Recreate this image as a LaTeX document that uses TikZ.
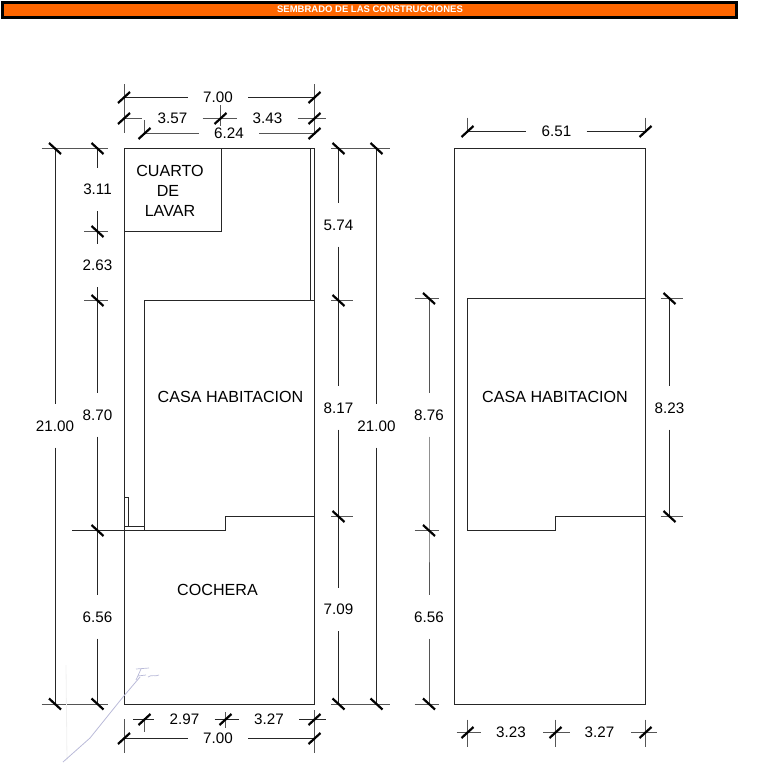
\documentclass[tikz,border=0pt]{standalone}
\usepackage{fontspec}
\setmainfont{Liberation Sans}
\usetikzlibrary{positioning,calc}
\definecolor{headorange}{HTML}{FF6600}
\definecolor{extgray}{HTML}{555555}
\definecolor{penblue}{HTML}{B9BAD8}
\tikzset{
    wall/.style={draw=black!85, line width=1pt},
    extline/.style={draw=extgray, line width=1pt},
    dimline/.style={draw=black!85, line width=1pt},
    heavy/.style={draw=black, line width=2.2pt},
    tickf/.style={insert path={+(-6,5.5) -- +(6,-5.5)}},
    tickb/.style={insert path={+(-6,-5.5) -- +(6,5.5)}},
    room/.style={inner sep=0pt, font=\fontsize{16.1}{17}\selectfont},
    dimh/.style={inner sep=0pt, minimum width=60pt, font=\fontsize{15.2}{16}\selectfont},
    dimv/.style={inner sep=0pt, minimum height=43pt, font=\fontsize{15.2}{16}\selectfont},
    dimt/.style={inner sep=0pt, font=\fontsize{15.2}{16}\selectfont}
}
\begin{document}
\begin{tikzpicture}[x=1pt,y=-1pt]
    \useasboundingbox (0,0) rectangle (765,776);

    % Title bar
    \draw[black, line width=3pt, fill=headorange] (2.5,2.5) rectangle (736.5,17.5);
    \node[inner sep=0pt, text=white, font=\fontsize{9.5}{10}\selectfont\bfseries] (title) at (370,9.5) {SEMBRADO DE LAS CONSTRUCCIONES};

    % Left plan
    \draw[wall] (124,148.5) rectangle (314.5,704);
    \draw[wall] (124,231.5) -- (221.5,231.5) -- (221.5,148.5);
    \draw[wall] (310.5,148.5) -- (310.5,300.5);
    \draw[wall] (314.5,300.5) -- (144.5,300.5) -- (144.5,530.5);
    \draw[wall] (72,530.5) -- (225.5,530.5) -- (225.5,516.5) -- (314.5,516.5);
    \draw[wall] (124,497.5) -- (128.5,497.5) -- (128.5,526.5);
    \draw[wall] (124,526.5) -- (144.5,526.5);
    \node[room] (cuarto) at (170,171) {CUARTO};
    \node[room] (de) at (168,191) {DE};
    \node[room] (lavar) at (170,211) {LAVAR};
    \node[room] (casa) at (230.5,397) {CASA HABITACION};
    \node[room] (cochera) at (217.5,590) {COCHERA};

    % Left plan, dimensions above
    \draw[extline] (124,84) -- (124,133);
    \draw[extline] (314.5,84) -- (314.5,134);
    \draw[extline] (220.5,105) -- (220.5,126);
    \draw[extline] (144.5,120) -- (144.5,134);
    \node[dimh] (top700) at (218,97.5) {7.00};
    \node[dimh] (top357) at (172.5,118.5) {3.57};
    \node[dimh] (top343) at (267.5,118.5) {3.43};
    \node[dimh] (top624) at (229,133.5) {6.24};
    \draw[dimline] (124,97.5) -- (top700) -- (314.5,97.5);
    \draw[extline] (124,118.5) -- (top357) -- (220.5,118.5) -- (top343) -- (325.5,118.5);
    \draw[extline] (144.5,133.5) -- (top624) -- (314.5,133.5);
    \draw[heavy] (124,97.5) [tickf] (314.5,97.5) [tickf];
    \draw[heavy] (124,118.5) [tickf] (220.5,118.5) [tickf] (314.5,118.5) [tickf];
    \draw[heavy] (144.5,133.5) [tickf] (314.5,133.5) [tickf];

    % Left plan, dimensions on the left
    \draw[extline] (41.5,148.5) -- (108,148.5);
    \draw[extline] (84,231.5) -- (108,231.5);
    \draw[extline] (84,300.5) -- (108,300.5);
    \draw[extline] (41.5,704) -- (108,704);
    \node[dimv] (left2100) at (55,426) {21.00};
    \node[dimv] (left311) at (97.5,189.5) {3.11};
    \node[dimv] (left263) at (97.5,265.5) {2.63};
    \node[dimv] (left870) at (97.5,415) {8.70};
    \node[dimv] (left656) at (97.5,617) {6.56};
    \draw[dimline] (55,148.5) -- (left2100) -- (55,704);
    \draw[dimline] (97.5,148.5) -- (left311) -- (97.5,244);
    \draw[dimline] (97.5,231.5) -- (left263) -- (97.5,300.5) -- (left870) -- (97.5,530.5) -- (left656) -- (97.5,704);
    \draw[heavy] (55,148.5) [tickb] (97.5,148.5) [tickb] (97.5,231.5) [tickb] (97.5,300.5) [tickb];
    \draw[heavy] (97.5,530.5) [tickb] (55,704) [tickb] (97.5,704) [tickb];

    % Left plan, dimensions on the right
    \draw[extline] (331,148.5) -- (390,148.5);
    \draw[extline] (331,300.5) -- (353,300.5);
    \draw[extline] (331,516.5) -- (353,516.5);
    \draw[extline] (331,704) -- (390,704);
    \node[dimv] (right574) at (338.5,225) {5.74};
    \node[dimv] (right817) at (338.5,408) {8.17};
    \node[dimv] (right709) at (338.5,609.5) {7.09};
    \node[dimv] (right2100) at (376.5,426) {21.00};
    \draw[dimline] (338.5,148.5) -- (right574) -- (338.5,300.5) -- (right817) -- (338.5,516.5) -- (right709) -- (338.5,704);
    \draw[dimline] (376.5,148.5) -- (right2100) -- (376.5,704);
    \draw[heavy] (338.5,148.5) [tickb] (376.5,148.5) [tickb] (338.5,300.5) [tickb];
    \draw[heavy] (338.5,516.5) [tickb] (338.5,704) [tickb] (376.5,704) [tickb];

    % Left plan, dimensions below
    \draw[extline] (124,719) -- (124,752.5);
    \draw[extline] (314.5,710) -- (314.5,752.5);
    \draw[extline] (144.5,719) -- (144.5,732);
    \draw[extline] (225.5,712) -- (225.5,728);
    \node[dimh] (bot297) at (184.5,719.5) {2.97};
    \node[dimh] (bot327) at (269,719.5) {3.27};
    \node[dimh] (bot700) at (218,738.5) {7.00};
    \draw[dimline] (133,719.5) -- (bot297) -- (225.5,719.5) -- (bot327) -- (325.5,719.5);
    \draw[dimline] (124,738.5) -- (bot700) -- (314.5,738.5);
    \draw[heavy] (144.5,719.5) [tickf] (225.5,719.5) [tickf] (314.5,719.5) [tickf];
    \draw[heavy] (124,738.5) [tickf] (314.5,738.5) [tickf];

    % Signature
    \draw[black!6, line width=0.8pt] (66,665) -- (67,760);
    \draw[penblue, line width=0.8pt] (63,762) -- (90,738) -- (123,697) -- (140,677);
    \draw[penblue, line width=0.7pt] (141,669) -- (136,680) (136,669) -- (149,668) (138,676) -- (146,675) (148,677) .. controls (152,674) and (155,677) .. (159,675);

    % Right plan
    \draw[wall] (454.5,148.5) rectangle (645.5,704);
    \draw[wall] (645.5,298.5) -- (467.5,298.5) -- (467.5,530.5) -- (555.5,530.5) -- (555.5,516.5) -- (645.5,516.5);
    \node[room] (casab) at (555,397) {CASA HABITACION};

    % Right plan, dimension above
    \draw[extline] (467.5,117.5) -- (467.5,131.5);
    \draw[extline] (645.5,117.5) -- (645.5,131.5);
    \node[dimh] (top651) at (556.5,131.5) {6.51};
    \draw[dimline] (467.5,131.5) -- (top651) -- (645.5,131.5);
    \draw[heavy] (467.5,131.5) [tickf] (645.5,131.5) [tickf];

    % Right plan, dimensions at the sides
    \draw[extline] (414.5,298.5) -- (438.5,298.5);
    \draw[extline] (414.5,530.5) -- (438.5,530.5);
    \draw[extline] (414.5,704) -- (438.5,704);
    \draw[extline] (660.5,298.5) -- (682.5,298.5);
    \draw[extline] (660.5,516.5) -- (682.5,516.5);
    \node[dimv] (side876) at (429,415) {8.76};
    \node[dimv] (side656) at (429,617) {6.56};
    \node[dimv] (side823) at (669.5,408) {8.23};
    \draw[extline] (429,298.5) -- (side876) -- (429,530.5) -- (side656) -- (429,704);
    \draw[dimline] (669.5,298.5) -- (side823) -- (669.5,516.5);
    \draw[heavy] (429,298.5) [tickb] (429,530.5) [tickb] (429,704) [tickb];
    \draw[heavy] (669.5,298.5) [tickb] (669.5,516.5) [tickb];

    % Right plan, dimensions below
    \draw[extline] (467.5,719.5) -- (467.5,746.5);
    \draw[extline] (555.5,719.5) -- (555.5,746.5);
    \draw[extline] (645.5,719.5) -- (645.5,746.5);
    \draw[extline] (456.5,732.5) -- (480.5,732.5);
    \draw[extline] (543,732.5) -- (569.5,732.5);
    \draw[extline] (631,732.5) -- (656.5,732.5);
    \node[dimt] (bot323) at (511,732.5) {3.23};
    \node[dimt] (bot327b) at (599.5,732.5) {3.27};
    \draw[heavy] (467.5,732.5) [tickf] (555.5,732.5) [tickf] (645.5,732.5) [tickf];

\end{tikzpicture}
\end{document}
